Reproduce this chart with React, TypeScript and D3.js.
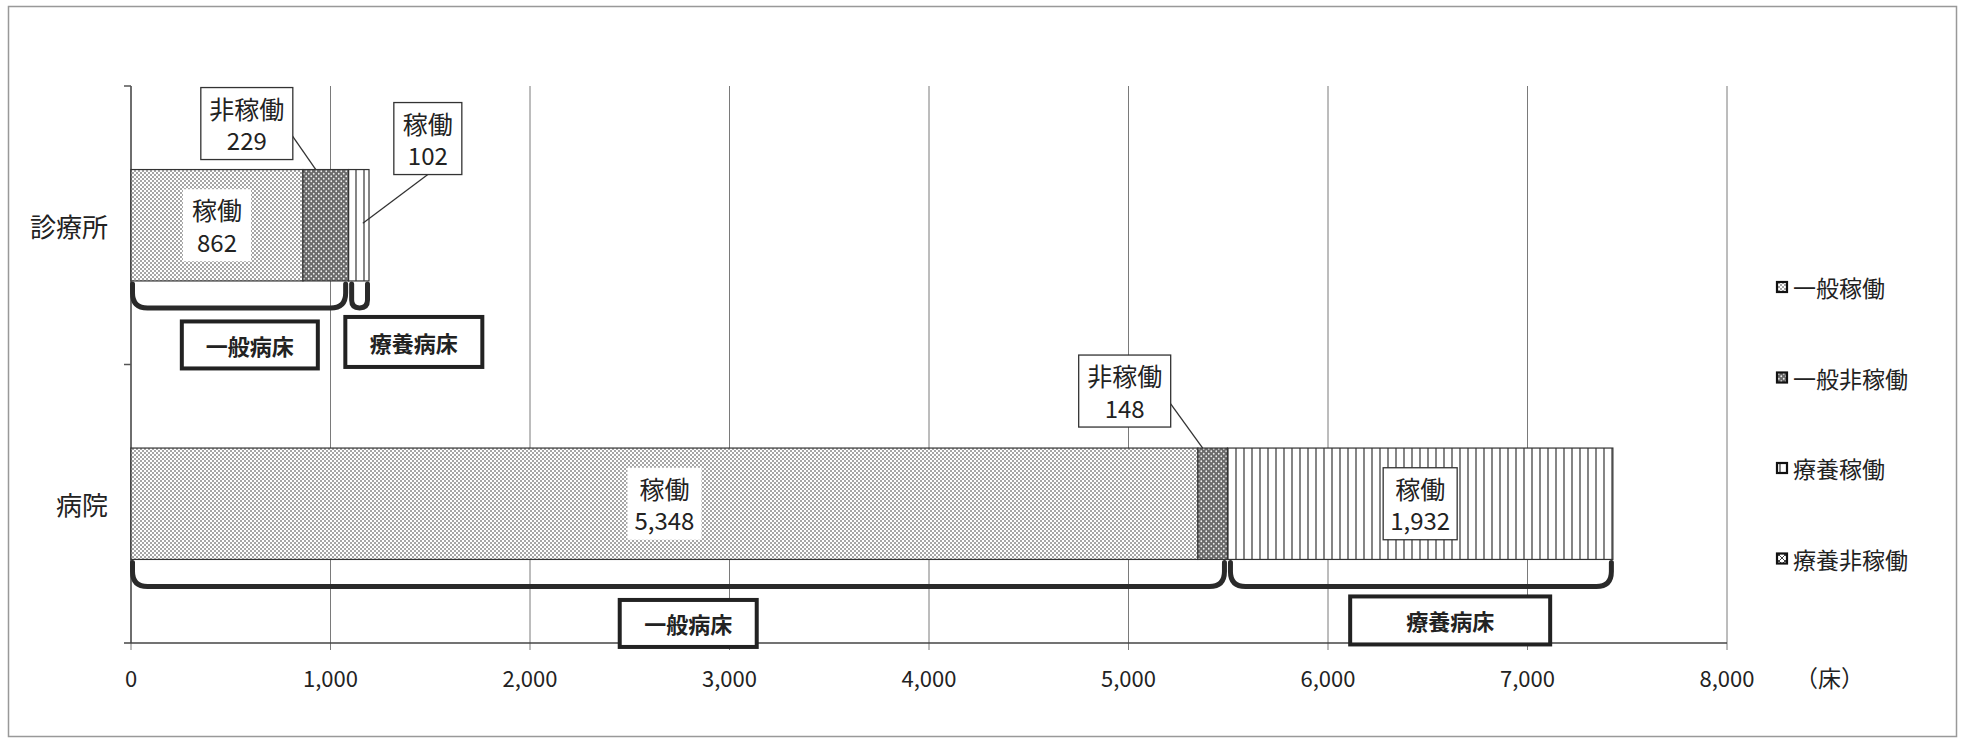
import React from "react";
import * as d3 from "d3";

// 病床数（床）
const categories = ["診療所", "病院"];
const seriesNames = ["一般稼働", "一般非稼働", "療養稼働", "療養非稼働"];
const clinicBeds = [862, 229, 102, 0];
const hospitalBeds = [5348, 148, 1932, 0];
const xTickValues = [0, 1000, 2000, 3000, 4000, 5000, 6000, 7000, 8000];
const groupNames = ["一般病床", "療養病床"];
const unitLabel = "（床）";

const W = 1961;
const H = 740;
const FONT = "'Noto Sans CJK JP', 'Noto Sans', sans-serif";
const fmt = d3.format(",");

const rows = [clinicBeds, hospitalBeds];
const patternIds = ["pGenOn", "pGenOff", "pRyoOn", "pRyoOff"];

// label placement (offsets from the segment / brace)
const insideLabels = [
  { cat: 0, s: 0, stroke: false },
  { cat: 1, s: 0, stroke: false },
  { cat: 1, s: 2, stroke: true },
];
const callouts = [
  { cat: 0, s: 1, dx: -79, dy: -46, to: "top" },
  { cat: 0, s: 2, dx: 69, dy: -31, to: "mid" },
  { cat: 1, s: 1, dx: -88, dy: -57, to: "top" },
];
const groupBoxes = [
  { cat: 0, g: 0, dx: 10, dy: 64, w: 136, h: 47 },
  { cat: 0, g: 1, dx: 55, dy: 61, w: 137, h: 50 },
  { cat: 1, g: 0, dx: 9, dy: 64, w: 137, h: 47 },
  { cat: 1, g: 1, dx: 30, dy: 61, w: 200, h: 48 },
];

const textW = (s: string, fs: number) => {
  let w = 0;
  for (const ch of s) {
    if (/[0-9]/.test(ch)) w += 0.5 * fs;
    else if (ch === ",") w += 0.25 * fs;
    else w += fs;
  }
  return w;
};

const label = (s: number, v: number) => [s % 2 === 0 ? "稼働" : "非稼働", fmt(v)];

export default function App() {
  const x = d3.scaleLinear().domain([0, 8000]).range([131, 1727]);
  const y = d3
    .scaleBand<string>()
    .domain(categories)
    .range([86, 643])
    .paddingInner(0.6)
    .paddingOuter(0.3);
  const bw = y.bandwidth();

  const stacks = rows.map((vals) => {
    let acc = 0;
    return vals.map((v) => {
      const x0 = acc;
      acc += v;
      return { x0, x1: acc, v };
    });
  });

  const seg = (cat: number, s: number) => {
    const d = stacks[cat][s];
    const top = y(categories[cat])!;
    return { l: x(d.x0), r: x(d.x1), cx: (x(d.x0) + x(d.x1)) / 2, top, bottom: top + bw, mid: top + bw / 2, v: d.v };
  };

  const fs = 25;

  const boxW = (lines: string[]) => Math.max(...lines.map((t) => textW(t, 24))) + 20;

  const dataBox = (cx: number, cy: number, lines: string[], stroke: boolean, key: string) => {
    const w = boxW(lines);
    const h = 72;
    return (
      <g key={key}>
        <rect x={cx - w / 2} y={cy - h / 2} width={w} height={h} fill="#fff" stroke={stroke ? "#333" : "none"} strokeWidth={1.3} />
        <text x={cx} y={cy - 16} textAnchor="middle" dominantBaseline="central" fontSize={fs} fill="#222">{lines[0]}</text>
        <text x={cx} y={cy + 16} textAnchor="middle" dominantBaseline="central" fontSize={fs - 1} fill="#222">{lines[1]}</text>
      </g>
    );
  };

  const brace = (l: number, r: number, y0: number, y1: number) => {
    const rad = Math.min(15, (r - l) / 2);
    return `M${l},${y0} L${l},${y1 - rad} Q${l},${y1} ${l + rad},${y1} L${r - rad},${y1} Q${r},${y1} ${r},${y1 - rad} L${r},${y0}`;
  };

  const groupSpan = (cat: number, g: number) => {
    const a = seg(cat, g * 2);
    const b = seg(cat, g * 2 + 1);
    return { l: a.l, r: b.r, bottom: a.bottom };
  };

  return (
    <svg width={W} height={H} style={{ position: "absolute", left: 0, top: 0, background: "#fff" }} fontFamily={FONT}>
      <defs>
        <pattern id="pGenOn" width={4} height={4} patternUnits="userSpaceOnUse">
          <rect width={4} height={4} fill="#fff" />
          <circle cx={1} cy={1} r={1} fill="#888" />
          <circle cx={3} cy={3} r={1} fill="#888" />
        </pattern>
        <pattern id="pGenOff" width={5} height={5} patternUnits="userSpaceOnUse">
          <rect width={5} height={5} fill="#6a6a6a" />
          <circle cx={1.25} cy={1.25} r={0.9} fill="#eee" />
          <circle cx={3.75} cy={3.75} r={0.9} fill="#eee" />
        </pattern>
        <pattern id="pRyoOn" width={8} height={8} patternUnits="userSpaceOnUse">
          <rect width={8} height={8} fill="#fff" />
          <line x1={4} y1={0} x2={4} y2={8} stroke="#444" strokeWidth={1.3} />
        </pattern>
        <pattern id="pRyoOff" width={6} height={6} patternUnits="userSpaceOnUse">
          <rect width={6} height={6} fill="#fff" />
          <path d="M0,0 L6,6 M6,0 L0,6" stroke="#444" strokeWidth={1} />
        </pattern>
        <pattern id="lGenOn" width={3} height={3} patternUnits="userSpaceOnUse">
          <rect width={3} height={3} fill="#333" />
          <rect x={1} y={1} width={1} height={1} fill="#fff" />
        </pattern>
        <pattern id="lGenOff" width={4} height={4} patternUnits="userSpaceOnUse">
          <rect width={4} height={4} fill="#333" />
          <rect x={1} y={2} width={1.5} height={1} fill="#fff" />
        </pattern>
        <pattern id="lRyoOn" width={10} height={10} patternUnits="userSpaceOnUse">
          <rect width={10} height={10} fill="#fff" />
          <rect x={3} y={0} width={4} height={10} fill="#fff" />
        </pattern>
        <pattern id="lRyoOff" width={4} height={4} patternUnits="userSpaceOnUse">
          <rect width={4} height={4} fill="#333" />
          <rect x={1} y={1} width={2} height={2} fill="#ddd" />
        </pattern>
      </defs>

      {/* chart frame */}
      <rect x={8.5} y={6.5} width={1948} height={730} fill="#fff" stroke="#999" strokeWidth={1.5} />

      {/* vertical gridlines */}
      {xTickValues.map((t) => (
        <line key={`g${t}`} x1={x(t)} x2={x(t)} y1={86} y2={650} stroke="#7a7a7a" strokeWidth={1} />
      ))}

      {/* y axis */}
      <line x1={131} x2={131} y1={86} y2={643} stroke="#555" strokeWidth={1.5} />
      {[86, 86 + (643 - 86) / 2].map((v) => (
        <line key={`yt${v}`} x1={124} x2={131} y1={v} y2={v} stroke="#555" strokeWidth={1.5} />
      ))}
      <line x1={124} x2={1727} y1={643} y2={643} stroke="#444" strokeWidth={1.6} />

      {xTickValues.map((t) => (
        <text key={`tl${t}`} x={x(t)} y={677} textAnchor="middle" dominantBaseline="central" fontSize={22} fill="#222">
          {fmt(t)}
        </text>
      ))}
      <text x={1795} y={677} dominantBaseline="central" fontSize={23} fill="#222">{unitLabel}</text>

      {categories.map((c) => (
        <text key={c} x={108} y={y(c)! + bw / 2} textAnchor="end" dominantBaseline="central" fontSize={26} fill="#222">
          {c}
        </text>
      ))}

      {/* stacked bars */}
      {stacks.map((st, ci) =>
        st.map((d, si) =>
          d.v > 0 ? (
            <rect
              key={`b${ci}-${si}`}
              x={x(d.x0)}
              y={y(categories[ci])}
              width={x(d.x1) - x(d.x0)}
              height={bw}
              fill={`url(#${patternIds[si]})`}
              stroke="#333"
              strokeWidth={1.2}
            />
          ) : null
        )
      )}

      {/* braces */}
      {categories.map((c, ci) =>
        groupNames.map((g, gi) => {
          const sp = groupSpan(ci, gi);
          const l = sp.l + (gi === 0 ? 1.5 : 3);
          const r = sp.r - (gi === 0 ? 3 : 1.5);
          return (
            <path
              key={`br${ci}-${gi}`}
              d={brace(l, r, sp.bottom + 3, sp.bottom + 27)}
              fill="none"
              stroke="#2a2a2a"
              strokeWidth={5}
              strokeLinecap="round"
            />
          );
        })
      )}

      {/* group label boxes */}
      {groupBoxes.map((b) => {
        const sp = groupSpan(b.cat, b.g);
        const cx = (sp.l + sp.r) / 2 + b.dx;
        const cy = sp.bottom + b.dy;
        return (
          <g key={`gb${b.cat}-${b.g}`}>
            <rect x={cx - b.w / 2} y={cy - b.h / 2} width={b.w} height={b.h} fill="#fff" stroke="#222" strokeWidth={4} />
            <text x={cx} y={cy} textAnchor="middle" dominantBaseline="central" fontSize={22} fontWeight="bold" fill="#222">
              {groupNames[b.g]}
            </text>
          </g>
        );
      })}

      {/* inside data labels */}
      {insideLabels.map((d) => {
        const s = seg(d.cat, d.s);
        return dataBox(s.cx, s.mid, label(d.s, s.v), d.stroke, `il${d.cat}-${d.s}`);
      })}

      {/* callout data labels */}
      {callouts.map((d) => {
        const s = seg(d.cat, d.s);
        const cx = s.cx + d.dx;
        const cy = s.top + d.dy;
        const lines = label(d.s, s.v);
        const w = boxW(lines);
        const start = d.to === "top" ? [cx + w / 2 - 2, cy + 10] : [cx, cy + 36];
        const end = d.to === "top" ? [s.cx - 10, s.top] : [s.cx + 4, s.mid - 2];
        return (
          <g key={`co${d.cat}-${d.s}`}>
            <line x1={start[0]} y1={start[1]} x2={end[0]} y2={end[1]} stroke="#333" strokeWidth={1.3} />
            {dataBox(cx, cy, lines, true, "box")}
          </g>
        );
      })}

      {/* legend */}
      {seriesNames.map((n, i) => {
        const ly = 287 + i * 90.5;
        return (
          <g key={n}>
            <rect x={1777} y={ly - 5} width={10} height={10} fill={`url(#${patternIds[i]})`} stroke="#111" strokeWidth={2.2} />
            <text x={1793} y={ly} dominantBaseline="central" fontSize={23} fill="#222">{n}</text>
          </g>
        );
      })}
    </svg>
  );
}
